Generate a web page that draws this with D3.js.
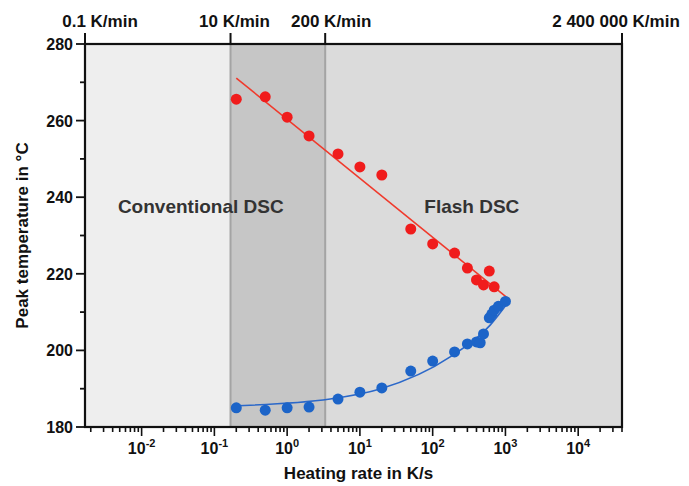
<!DOCTYPE html>
<html>
<head>
<meta charset="utf-8">
<script src="https://cdn.jsdelivr.net/npm/d3@7/dist/d3.min.js"></script>
<style>
  body { margin: 0; background: #fff; }
  svg text { font-family: "Liberation Sans", Arial, sans-serif; }
</style>
</head>
<body>
<div id="chart"></div>
<script>
// peak temperatures, heating rate in K/s
const redRate = [0.2, 0.5, 1, 2, 5, 10, 20, 50, 100, 200, 300, 400, 500, 600, 700];
const redPeak = [265.6, 266.2, 260.9, 256.0, 251.3, 247.9, 245.8, 231.7, 227.8, 225.4, 221.5, 218.4, 217.1, 220.7, 216.6];
const blueRate = [0.2, 0.5, 1, 2, 5, 10, 20, 50, 100, 200, 300, 400, 450, 500, 600, 650, 700, 800, 1000];
const bluePeak = [185.0, 184.4, 185.0, 185.2, 187.3, 189.1, 190.2, 194.6, 197.2, 199.6, 201.7, 202.2, 202.0, 204.3, 208.5, 209.5, 210.5, 211.5, 212.8];

// fit curves
const redFitRate = [0.2, 1150];
const redFitPeak = [271.1, 213.2];
const blueFitRate = [0.175, 3.9, 18.9, 174, 617, 1150];
const blueFitPeak = [185.5, 187.3, 189.9, 198.3, 206.6, 213.2];

// top axis, K/min
const topTickValues = [0.1, 10, 200, 2400000];
const topTickLabels = ["0.1 K/min", "10 K/min", "200 K/min", "2 400 000 K/min"];

const yTicks = [180, 200, 220, 240, 260, 280];
const xExponents = [-2, -1, 0, 1, 2, 3, 4];

const regionLabels = ["Conventional DSC", "Flash DSC"];
const regionLabelRate = [0.065, 345];
const regionLabelPeak = [236, 236];

const width = 689, height = 486;
const margin = {top: 44, right: 67, bottom: 59, left: 85};

const svg = d3.select("#chart").append("svg")
    .attr("width", width)
    .attr("height", height);

const x = d3.scaleLog()
    .domain([topTickValues[0] / 60, topTickValues[3] / 60])
    .range([margin.left, width - margin.right]);
const y = d3.scaleLinear()
    .domain([180, 280])
    .range([height - margin.bottom, margin.top]);

// shaded bands
const bandColors = ["#eeeeee", "#c6c6c6", "#dbdbdb"];
for (let i = 0; i < 3; i++) {
    const x0 = x(topTickValues[i] / 60), x1 = x(topTickValues[i + 1] / 60);
    svg.append("rect")
        .attr("x", x0).attr("y", y(280))
        .attr("width", x1 - x0).attr("height", y(180) - y(280))
        .attr("fill", bandColors[i]);
}
[1, 2].forEach(i => {
    svg.append("line")
        .attr("x1", x(topTickValues[i] / 60)).attr("x2", x(topTickValues[i] / 60))
        .attr("y1", y(280)).attr("y2", y(180))
        .attr("stroke", "#a4a4a4").attr("stroke-width", 2);
});

// region labels
regionLabels.forEach((t, i) => {
    svg.append("text")
        .attr("x", x(regionLabelRate[i])).attr("y", y(regionLabelPeak[i]))
        .attr("text-anchor", "middle")
        .attr("font-size", 19).attr("font-weight", "bold")
        .attr("fill", "#333")
        .text(t);
});

// fit lines
const line = d3.line()
    .x(d => x(d[0]))
    .y(d => y(d[1]))
    .curve(d3.curveMonotoneX);

svg.append("path")
    .attr("d", line(redFitRate.map((r, i) => [r, redFitPeak[i]])))
    .attr("fill", "none").attr("stroke", "#f03a2c").attr("stroke-width", 1.6);
svg.append("path")
    .attr("d", line(blueFitRate.map((r, i) => [r, blueFitPeak[i]])))
    .attr("fill", "none").attr("stroke", "#2b68c9").attr("stroke-width", 1.6);

// points
svg.append("g").selectAll("circle")
    .data(blueRate.map((r, i) => [r, bluePeak[i]]))
    .join("circle")
    .attr("cx", d => x(d[0])).attr("cy", d => y(d[1]))
    .attr("r", 5.5).attr("fill", "#1c64c8");
svg.append("g").selectAll("circle")
    .data(redRate.map((r, i) => [r, redPeak[i]]))
    .join("circle")
    .attr("cx", d => x(d[0])).attr("cy", d => y(d[1]))
    .attr("r", 5.5).attr("fill", "#f01c1c");

// frame
svg.append("rect")
    .attr("x", x.range()[0]).attr("y", y(280))
    .attr("width", x.range()[1] - x.range()[0]).attr("height", y(180) - y(280))
    .attr("fill", "none").attr("stroke", "#111").attr("stroke-width", 2.2);

// left axis
const yMinor = d3.range(190, 280, 20);
const gy = svg.append("g").attr("stroke", "#111").attr("stroke-width", 1.8);
yTicks.forEach(v => {
    gy.append("line").attr("x1", margin.left - 9).attr("x2", margin.left)
        .attr("y1", y(v)).attr("y2", y(v));
});
yMinor.forEach(v => {
    gy.append("line").attr("x1", margin.left - 5).attr("x2", margin.left)
        .attr("y1", y(v)).attr("y2", y(v));
});
svg.append("g").selectAll("text")
    .data(yTicks)
    .join("text")
    .attr("x", margin.left - 12).attr("y", d => y(d) + 6)
    .attr("text-anchor", "end")
    .attr("font-size", 16).attr("font-weight", "bold").attr("fill", "#111")
    .text(d => d);

svg.append("text")
    .attr("transform", `translate(28,${(y(180) + y(280)) / 2}) rotate(-90)`)
    .attr("text-anchor", "middle")
    .attr("font-size", 17).attr("font-weight", "bold").attr("fill", "#111")
    .text("Peak temperature in °C");

// bottom axis
const gx = svg.append("g").attr("stroke", "#111").attr("stroke-width", 1.6);
x.ticks(100).forEach(v => {
    const major = xExponents.some(e => Math.abs(v - Math.pow(10, e)) < 1e-9 * Math.pow(10, e));
    gx.append("line")
        .attr("x1", x(v)).attr("x2", x(v))
        .attr("y1", y(180)).attr("y2", y(180) + (major ? 9 : 5));
});
const xl = svg.append("g").selectAll("text")
    .data(xExponents)
    .join("text")
    .attr("x", d => x(Math.pow(10, d)))
    .attr("y", y(180) + 27)
    .attr("text-anchor", "middle")
    .attr("font-size", 16).attr("font-weight", "bold").attr("fill", "#111");
xl.append("tspan").text("10");
xl.append("tspan").attr("dy", -7).attr("font-size", 11).text(d => d);

svg.append("text")
    .attr("x", (x.range()[0] + x.range()[1]) / 2 + 5).attr("y", height - 7)
    .attr("text-anchor", "middle")
    .attr("font-size", 17).attr("font-weight", "bold").attr("fill", "#111")
    .text("Heating rate in K/s");

// top axis
const topDx = [15, 4, 6, -6];
const gt = svg.append("g");
topTickValues.forEach((v, i) => {
    gt.append("line")
        .attr("x1", x(v / 60)).attr("x2", x(v / 60))
        .attr("y1", y(280) - 11).attr("y2", y(280))
        .attr("stroke", "#111").attr("stroke-width", 2);
    gt.append("text")
        .attr("x", x(v / 60) + topDx[i]).attr("y", 27)
        .attr("text-anchor", "middle")
        .attr("font-size", 17).attr("font-weight", "bold").attr("fill", "#111")
        .text(topTickLabels[i]);
});
</script>
</body>
</html>
